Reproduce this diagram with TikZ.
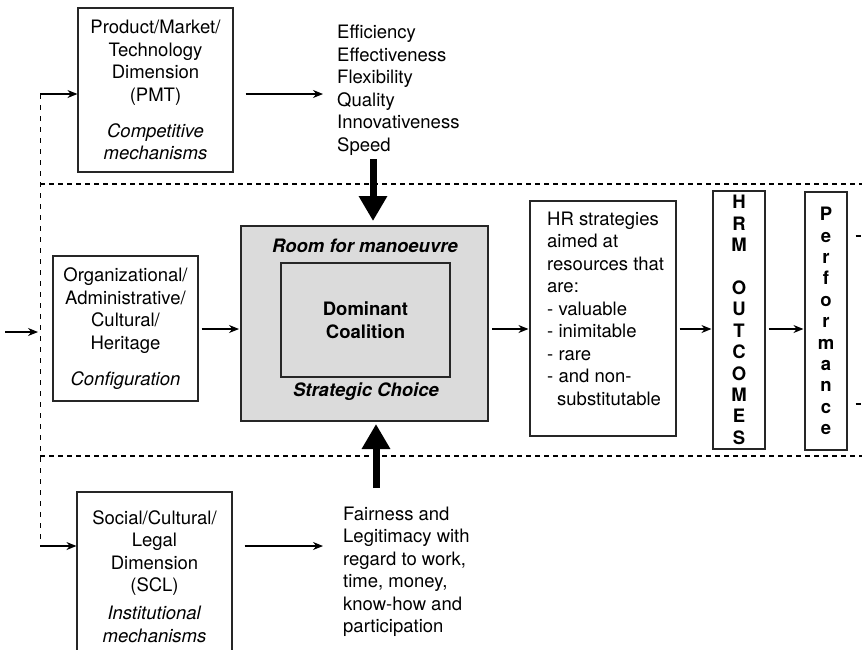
\documentclass[tikz,border=0pt]{standalone}
\usepackage{fontspec}
\setmainfont{TeX Gyre Heros}
\usetikzlibrary{arrows.meta}
\usetikzlibrary{calc}
\usetikzlibrary{positioning}
\newcommand\figfont{\fontsize{18.5}{22.5}\selectfont}
\tikzset{
    box/.style={
        draw=black!85,
        line width=1.1pt,
        align=center,
        inner sep=0pt
    },
    arr/.style={
        -{Stealth[length=10pt,width=8pt]},
        line width=1.1pt
    },
    fat arrow/.style={
        -{Triangle[length=25pt,width=27pt]},
        line width=7pt
    },
    section line/.style={
        dash pattern=on 5pt off 4pt,
        line width=1.7pt
    },
    feed line/.style={
        dash pattern=on 5pt off 6pt,
        line width=0.9pt
    },
    txt/.style={
        align=left,
        inner sep=0pt,
        anchor=west
    },
    letters/.style={
        align=center,
        inner sep=0pt,
        font=\bfseries\fontsize{18.5}{21.4}\selectfont
    }
}

\begin{document}
\begin{tikzpicture}[x=1pt,y=-1pt,font=\figfont]
            \clip (0,0) rectangle (862,649);
            % environment boxes
            \node[box,minimum width=155pt,minimum height=164pt] (pmt) at (155.5,90)
              {Product/Market/\\Technology\\Dimension\\(PMT)\\[13.5pt]\textit{Competitive}\\\textit{mechanisms}};
            \node[txt] (eff) at (337,90)
              {Efficiency\\Effectiveness\\Flexibility\\Quality\\Innovativeness\\Speed};
            \node[box,minimum width=145pt,minimum height=145pt] (org) at (125.5,328.5)
              {Organizational/\\Administrative/\\Cultural/\\Heritage\\[13.5pt]\textit{Configuration}};
            \node[box,minimum width=155pt,minimum height=169pt] (scl) at (154.5,576.5)
              {Social/Cultural/\\Legal\\Dimension\\(SCL)\\[5.5pt]\textit{Institutional}\\\textit{mechanisms}};
            \node[txt] (fair) at (343,572)
              {Fairness and\\Legitimacy with\\regard to work,\\time, money,\\know-how and\\participation};
            % strategic choice
            \node[box,line width=2pt,fill=black!14,minimum width=247pt,minimum height=195pt] (room) at (364.5,323.5) {};
            \node[box,line width=1.6pt,minimum width=169pt,minimum height=114pt,font=\figfont\bfseries] (core) at (365.5,320)
              {Dominant\\Coalition};
            \node[font=\figfont\bfseries\itshape,inner sep=0pt] (rfm) at (365,246) {Room for manoeuvre};
            \node[font=\figfont\bfseries\itshape,inner sep=0pt] (sc) at (366,392) {Strategic Choice};
            % HR side
            \node[box,minimum width=146pt,minimum height=235pt] (hr) at (603,318.5) {};
            \node[txt] (hrtxt) at (547,308.5)
              {HR strategies\\aimed at\\resources that\\are:\\- valuable\\- inimitable\\- rare\\- and non-\\\hspace*{10pt}substitutable};
            \node[box,letters,minimum width=52pt,minimum height=258pt] (hrm) at (739,320)
              {H\\R\\M\\[21.4pt]O\\U\\T\\C\\O\\M\\E\\S};
            \node[box,letters,minimum width=42pt,minimum height=258pt] (perf) at (826,321)
              {P\\e\\r\\f\\o\\r\\m\\a\\n\\c\\e};
            % dashed borders
            \coordinate (lt) at (40,94);
            \coordinate (lb) at (40,546);
            \coordinate (start) at (5,332);
            \coordinate (mid) at (0,329);
            \draw[feed line] (lt) -- (lb);
            \draw[section line] (40,184) -- (870,184);
            \draw[section line] (40,456) -- (870,456);
            \draw[section line] ([xshift=8pt]perf.east |- 0,236) -- ++(30,0);
            \draw[section line] ([xshift=8pt]perf.east |- 0,404) -- ++(30,0);
            % arrows
            \draw[arr,shorten >=2pt] (start) -- (start -| lt);
            \draw[arr] (lt) -- (lt -| pmt.west);
            \draw[arr] (lb) -- (lb -| scl.west);
            \draw[arr,shorten <=12pt,shorten >=14pt] (pmt.east |- lt) -- (eff.west |- lt);
            \draw[arr,shorten <=12pt,shorten >=20pt] (scl.east |- lb) -- (fair.west |- lb);
            \foreach \s/\t in {org/room,room/hr,hr/hrm,hrm/perf}
              \draw[arr,shorten <=3pt,shorten >=1pt] (\s.east |- mid) -- (\t.west |- mid);
            \draw[fat arrow,shorten >=4pt] ($(room.north)+(8.5,-66)$) -- ([xshift=8.5pt]room.north);
            \draw[fat arrow,shorten >=2pt] ($(room.south)+(11.5,66)$) -- ([xshift=11.5pt]room.south);
          \end{tikzpicture}
\end{document}
